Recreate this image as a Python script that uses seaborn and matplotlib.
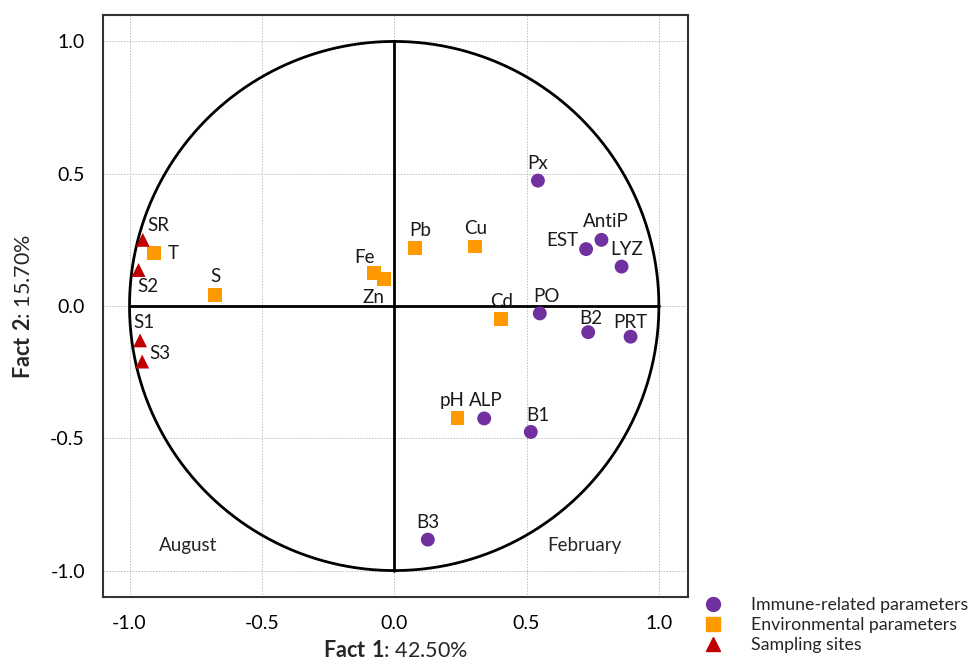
import numpy as np
import pandas as pd
import matplotlib
matplotlib.use("Agg")
import matplotlib.pyplot as plt
from matplotlib.ticker import MultipleLocator
import seaborn as sns

# loadings
immune_names = ["Px", "AntiP", "EST", "LYZ", "PO", "B2", "PRT", "ALP", "B1", "B3"]
immune_x = [0.543, 0.783, 0.725, 0.859, 0.550, 0.733, 0.893, 0.340, 0.516, 0.127]
immune_y = [0.474, 0.250, 0.215, 0.149, -0.028, -0.099, -0.116, -0.425, -0.476, -0.883]

env_names = ["T", "S", "Fe", "Zn", "Pb", "Cu", "Cd", "pH"]
env_x = [-0.908, -0.677, -0.076, -0.038, 0.078, 0.304, 0.405, 0.239]
env_y = [0.200, 0.042, 0.126, 0.102, 0.218, 0.225, -0.050, -0.425]

site_names = ["SR", "S2", "S1", "S3"]
site_x = [-0.950, -0.966, -0.960, -0.952]
site_y = [0.250, 0.136, -0.130, -0.210]

groups = ["Immune-related parameters", "Environmental parameters", "Sampling sites"]
colors = ["#7030A0", "#FF9900", "#C00000"]
markers = ["o", "s", "^"]

df = pd.concat([
    pd.DataFrame({"name": immune_names, "x": immune_x, "y": immune_y, "group": groups[0]}),
    pd.DataFrame({"name": env_names, "x": env_x, "y": env_y, "group": groups[1]}),
    pd.DataFrame({"name": site_names, "x": site_x, "y": site_y, "group": groups[2]}),
], ignore_index=True)

# label offsets in points (dx, dy)
label_pos = {
    "Px": (0, 12), "AntiP": (3, 13), "EST": (-17, 6),
    "LYZ": (4, 12), "PO": (5, 12), "B2": (2, 10),
    "PRT": (0, 10), "ALP": (1, 13), "B1": (5, 12),
    "pH": (-4, 13), "B3": (0, 12), "Pb": (4, 13),
    "Cu": (1, 13), "Cd": (0, 13), "Fe": (-7, 11),
    "Zn": (-8, -13), "S": (0, 13), "T": (14, 0),
    "SR": (11, 10), "S2": (7, -12), "S1": (3, 13),
    "S3": (13, 6),
}

sns.set_style("white")
plt.rcParams["font.family"] = ["Lato", "DejaVu Sans"]
plt.rcParams["mathtext.fontset"] = "custom"
plt.rcParams["mathtext.bf"] = "Lato:bold"
plt.rcParams["mathtext.rm"] = "Lato"

fig = plt.figure(figsize=(9.73, 6.69), dpi=100)
ax = fig.add_axes([0.1059, 0.1076, 0.6012, 0.8700])

sns.scatterplot(data=df, x="x", y="y", hue="group", style="group",
                hue_order=groups, style_order=groups,
                palette=dict(zip(groups, colors)), markers=dict(zip(groups, markers)),
                s=100, edgecolor="none", ax=ax, zorder=5, legend=False)

# unit circle and axes cross
t = np.linspace(0, 2 * np.pi, 400)
ax.plot(np.cos(t), np.sin(t), color="black", lw=2, zorder=3)
ax.plot([-1, 1], [0, 0], color="black", lw=2, zorder=3)
ax.plot([0, 0], [-1, 1], color="black", lw=2, zorder=3)

for _, r in df.iterrows():
    dx, dy = label_pos[r["name"]]
    ax.annotate(r["name"], (r["x"], r["y"]), xytext=(dx, dy), textcoords="offset points",
                ha="center", va="center", fontsize=13.5, color="#1a1a1a", zorder=6)

ax.text(-0.78, -0.905, "August", fontsize=13.5, ha="center", va="center")
ax.text(0.72, -0.905, "February", fontsize=13.5, ha="center", va="center")

ax.set_xlim(-1.1, 1.11)
ax.set_ylim(-1.1, 1.1)
ax.xaxis.set_major_locator(MultipleLocator(0.5))
ax.yaxis.set_major_locator(MultipleLocator(0.5))
ax.xaxis.set_minor_locator(MultipleLocator(0.1))
ax.yaxis.set_minor_locator(MultipleLocator(0.1))
ax.xaxis.set_major_formatter(plt.FuncFormatter(lambda v, p: f"{v:.1f}"))
ax.yaxis.set_major_formatter(plt.FuncFormatter(lambda v, p: f"{v:.1f}"))
ax.tick_params(which="both", direction="in", colors="#333333", labelcolor="black")
ax.tick_params(which="major", length=6, width=1, labelsize=14)
ax.tick_params(axis="x", which="major", pad=13)
ax.tick_params(axis="y", which="major", pad=13)
ax.tick_params(which="minor", length=4, width=1)
ax.grid(True, which="major", linestyle=(0, (1.5, 1.5)), color="#bdbdbd", lw=0.7)
for sp in ax.spines.values():
    sp.set_color("#333333")
    sp.set_linewidth(1.5)

ax.set_xlabel(r"$\bf{Fact\ 1}$: 42.50%", fontsize=15.5, labelpad=6)
ax.set_ylabel(r"$\bf{Fact\ 2}$: 15.70%", fontsize=15.5, labelpad=12)

handles = [plt.Line2D([], [], marker=m, color=c, linestyle="none", markersize=10)
           for m, c in zip(markers, colors)]
fig.legend(handles, groups, loc="upper left", bbox_to_anchor=(0.715, 0.107),
           frameon=False, fontsize=12.8, handletextpad=1.1, labelspacing=0.22,
           borderaxespad=0, borderpad=0)

fig.savefig("out.png", dpi=100)
